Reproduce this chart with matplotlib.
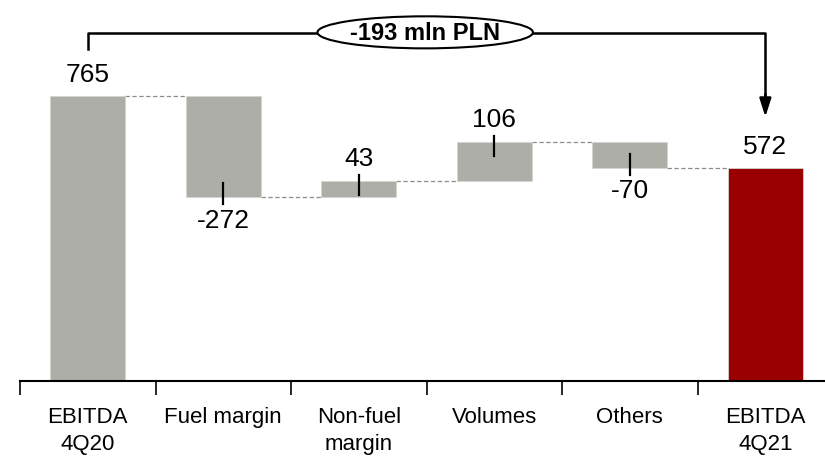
import matplotlib
matplotlib.use('Agg')
import matplotlib.pyplot as plt
from matplotlib.patches import Ellipse

plt.rcParams['font.family'] = ['Liberation Sans Narrow', 'Liberation Sans', 'DejaVu Sans']

# EBITDA bridge, mln PLN
categories = ['EBITDA\n4Q20', 'Fuel margin', 'Non-fuel\nmargin', 'Volumes', 'Others', 'EBITDA\n4Q21']
start_value = 765
changes = [-272, 43, 106, -70]
end_value = 572
total_change_label = '-193 mln PLN'

GREY = '#aeaea9'
RED = '#9b0000'

fig = plt.figure(figsize=(8.25, 4.64), dpi=100)
ax = fig.add_axes([20 / 825, 82 / 464, 805 / 825, 372.5 / 464])

# floating bars
bottoms = [0]
heights = [start_value]
level = start_value
for d in changes:
    bottoms.append(level if d > 0 else level + d)
    heights.append(abs(d))
    level += d
bottoms.append(0)
heights.append(end_value)
colors = [GREY] * (len(categories) - 1) + [RED]

x = list(range(len(categories)))
w = 0.553
ax.bar(x, heights, w, bottom=bottoms, color=colors, edgecolor='#d4d4d0', linewidth=0.6, zorder=2)

# dashed connectors between consecutive bars
levels = [start_value]
for d in changes:
    levels.append(levels[-1] + d)
for i, lv in enumerate(levels):
    ax.plot([i + w / 2, i + 1 - w / 2], [lv, lv], color='#8c8c8c', lw=0.9, ls=(0, (3.5, 2)), zorder=1)

# value labels
ax.text(0, start_value + 58, str(start_value), ha='center', va='center', fontsize=19)
ax.text(5, end_value + 58, str(end_value), ha='center', va='center', fontsize=19)
for i, d in enumerate(changes, start=1):
    top = bottoms[i] + heights[i]
    if d > 0:
        ax.plot([i, i], [top - 38, top + 16], color='black', lw=1.6, zorder=3)
        ax.text(i, top + 62, str(d), ha='center', va='center', fontsize=19)
    else:
        ax.plot([i, i], [bottoms[i] + 38, bottoms[i] - 18], color='black', lw=1.6, zorder=3)
        ax.text(i, bottoms[i] - 60, str(d), ha='center', va='center', fontsize=19)

# bracket with total change
ax.plot([0, 0, 5, 5], [891, 934, 934, 760], color='black', lw=1.8, zorder=3)
ax.annotate('', xy=(5, 709), xytext=(5, 770),
            arrowprops=dict(arrowstyle='-|>,head_width=0.35,head_length=1.1', color='black',
                            lw=1.8, shrinkA=0, shrinkB=0))
ax.add_patch(Ellipse((2.49, 936), 1.59, 86, facecolor='white', edgecolor='black', lw=1.5, zorder=4))
ax.text(2.49, 936, total_change_label, ha='center', va='center', fontsize=17, fontweight='bold', zorder=5)

ax.set_xlim(-0.5, 5.44)
ax.set_ylim(0, 1000)
for s in ['top', 'right', 'left']:
    ax.spines[s].set_visible(False)
ax.spines['bottom'].set_linewidth(1.5)
ax.set_yticks([])
ax.set_xticks(x)
ax.set_xticklabels(categories, fontsize=16, linespacing=1.4)
ax.tick_params(axis='x', which='major', length=0, pad=18)
ax.set_xticks([i - 0.5 for i in x], minor=True)
ax.tick_params(axis='x', which='minor', length=10, width=1.2, direction='out')

fig.savefig('out.png', dpi=100)
